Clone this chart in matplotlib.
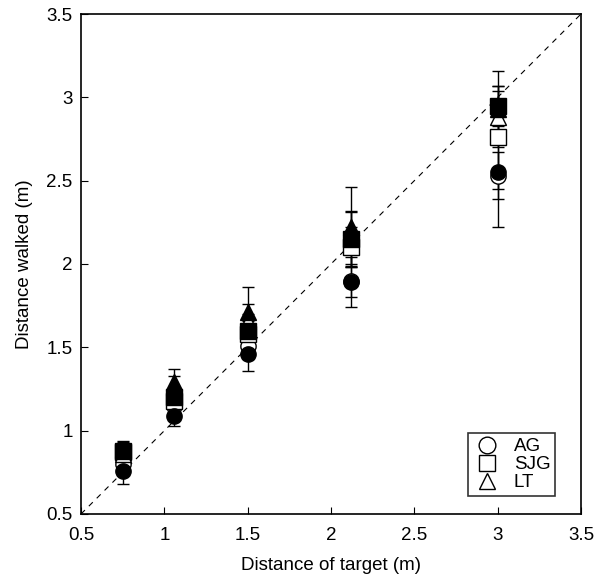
import numpy as np
import matplotlib.pyplot as plt
from matplotlib.lines import Line2D

plt.rcParams['font.family'] = ['Liberation Sans', 'DejaVu Sans']

# target distances (m)
targets = np.array([0.75, 1.06, 1.5, 2.12, 3.0])

# mean distance walked, open = condition 1, filled = condition 2
ag_open = [0.80, 1.15, 1.51, 1.90, 2.53]
ag_filled = [0.76, 1.09, 1.46, 1.89, 2.55]
sjg_open = [0.87, 1.18, 1.58, 2.10, 2.76]
sjg_filled = [0.88, 1.20, 1.60, 2.15, 2.95]
lt_open = [0.86, 1.26, 1.66, 2.20, 2.88]
lt_filled = [0.89, 1.29, 1.71, 2.22, 2.93]

# error bars
ag_open_err = [0.05, 0.06, 0.08, 0.10, 0.14]
ag_filled_err = [0.08, 0.06, 0.10, 0.15, 0.33]
sjg_open_err = [0.05, 0.05, 0.08, 0.12, 0.31]
sjg_filled_err = [0.05, 0.06, 0.10, 0.16, 0.12]
lt_open_err = [0.06, 0.07, 0.10, 0.12, 0.16]
lt_filled_err = [0.05, 0.08, 0.15, 0.24, 0.23]

fig = plt.figure(figsize=(5.97, 5.79), dpi=100)
ax = fig.add_axes([81/597, 65/579, 500/597, 500/579])

ax.plot([0.5, 3.5], [0.5, 3.5], 'k--', lw=0.8, dashes=(5, 5))

series = [
    (ag_open, ag_open_err, 'o', 'white'),
    (sjg_open, sjg_open_err, 's', 'white'),
    (lt_open, lt_open_err, '^', 'white'),
    (ag_filled, ag_filled_err, 'o', 'black'),
    (sjg_filled, sjg_filled_err, 's', 'black'),
    (lt_filled, lt_filled_err, '^', 'black'),
]
for vals, errs, mk, fc in series:
    ax.errorbar(targets, vals, yerr=errs, fmt=mk, mfc=fc, mec='black',
                ms=11, mew=1.0, ecolor='black', elinewidth=1.0,
                capsize=4, capthick=1.0, zorder=3)

ax.set_xlim(0.5, 3.5)
ax.set_ylim(0.5, 3.5)
ax.set_xticks([0.5, 1, 1.5, 2, 2.5, 3, 3.5])
ax.set_yticks([0.5, 1, 1.5, 2, 2.5, 3, 3.5])
ax.set_xticklabels(['0.5', '1', '1.5', '2', '2.5', '3', '3.5'])
ax.set_yticklabels(['0.5', '1', '1.5', '2', '2.5', '3', '3.5'])
ax.tick_params(direction='in', length=5, labelsize=13.5, width=0.8)
ax.tick_params(axis='x', pad=9)
ax.tick_params(axis='y', pad=6)
for s in ax.spines.values():
    s.set_linewidth(1.2)

ax.set_xlabel('Distance of target (m)', fontsize=13.5, labelpad=10)
ax.set_ylabel('Distance walked (m)', fontsize=13.5, labelpad=10)

handles = [Line2D([], [], ls='none', marker=m, mfc='white', mec='black', ms=12)
           for m in ['o', 's', '^']]
leg = ax.legend(handles, ['AG', 'SJG', 'LT'], loc='lower right',
                bbox_to_anchor=(0.948, 0.036), fontsize=13.5, frameon=True,
                fancybox=False, edgecolor='black', handlelength=1.6,
                handletextpad=0.6, borderpad=0.25, labelspacing=0.05,
                borderaxespad=0)
leg.get_frame().set_linewidth(1.2)

fig.savefig('out.png', dpi=100)
